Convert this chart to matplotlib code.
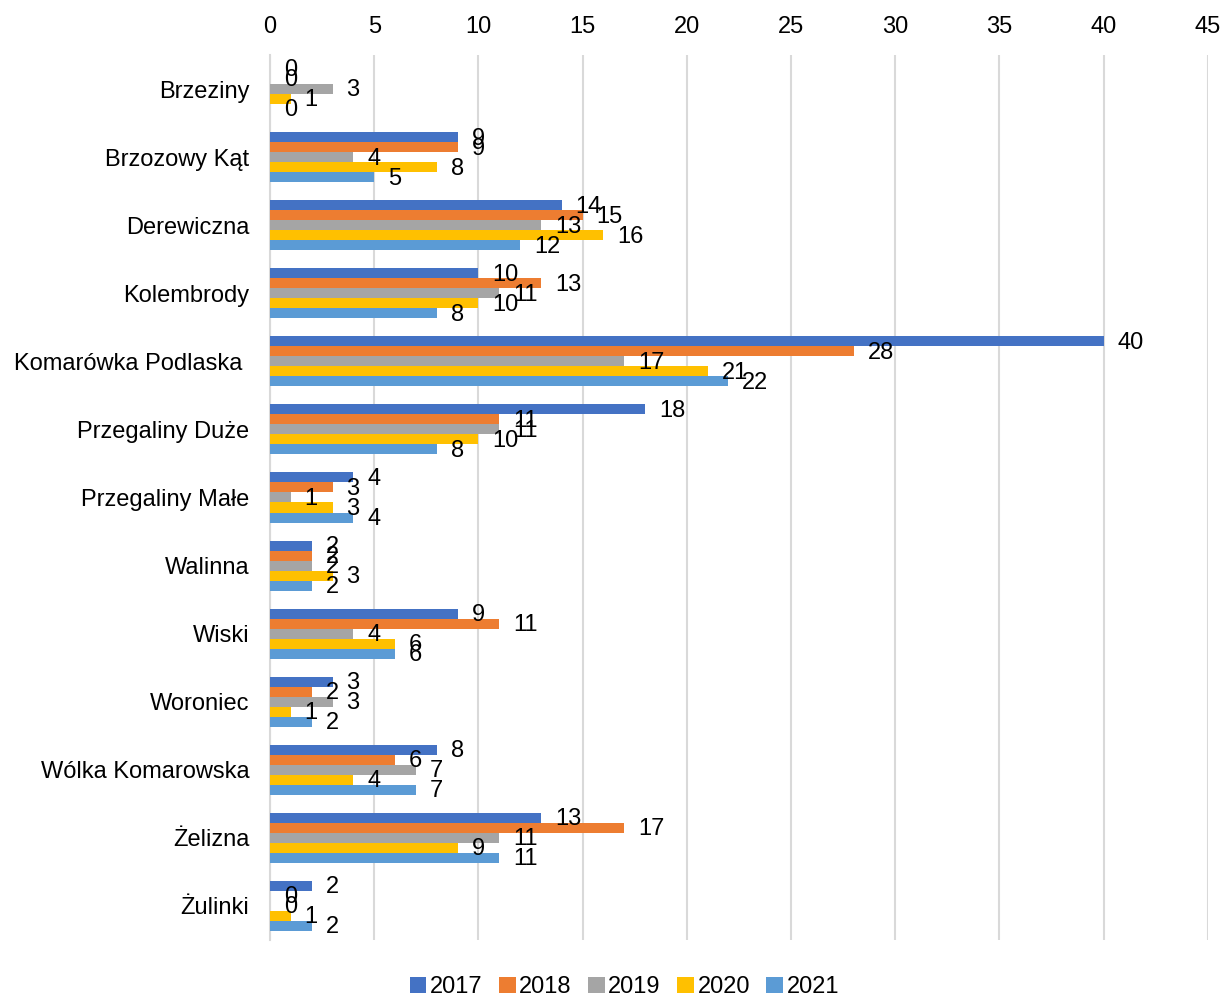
import matplotlib
matplotlib.use("Agg")
import matplotlib.pyplot as plt
import numpy as np

plt.rcParams['font.family'] = ['Liberation Sans', 'DejaVu Sans']

villages = ["Brzeziny", "Brzozowy Kąt", "Derewiczna", "Kolembrody",
            "Komarówka Podlaska ", "Przegaliny Duże", "Przegaliny Małe",
            "Walinna", "Wiski", "Woroniec", "Wólka Komarowska", "Żelizna",
            "Żulinki"]
years = ["2017", "2018", "2019", "2020", "2021"]
v2017 = [0, 9, 14, 10, 40, 18, 4, 2, 9, 3, 8, 13, 2]
v2018 = [0, 9, 15, 13, 28, 11, 3, 2, 11, 2, 6, 17, 0]
v2019 = [3, 4, 13, 11, 17, 11, 1, 2, 4, 3, 7, 11, 0]
v2020 = [1, 8, 16, 10, 21, 10, 3, 3, 6, 1, 4, 9, 1]
v2021 = [0, 5, 12, 8, 22, 8, 4, 2, 6, 2, 7, 11, 2]
series = [v2017, v2018, v2019, v2020, v2021]
colors = ["#4472C4", "#ED7D31", "#A5A5A5", "#FFC000", "#5B9BD5"]

fig = plt.figure(figsize=(12.2, 10.01), dpi=100)
ax = fig.add_axes([0.2213, 0.061, 0.7687, 0.884])

y = np.arange(len(villages))
h = 0.147
for i, (vals, c, yr) in enumerate(zip(series, colors, years)):
    pos = y + (i - 2) * h
    ax.barh(pos, vals, height=h, color=c, label=yr, zorder=3)
    for p, v in zip(pos, vals):
        ax.annotate(str(v), (v, p), xytext=(10, -1), textcoords="offset points",
                    ha="left", va="center", fontsize=17, color="black", zorder=4)

ax.set_xlim(0, 45)
ax.set_ylim(len(villages) - 0.5, -0.5)
ax.set_xticks(np.arange(0, 46, 5))
ax.xaxis.tick_top()
ax.set_yticks(y)
ax.set_yticklabels(villages)
ax.tick_params(axis="both", length=0, labelsize=17, colors="black")
ax.tick_params(axis="x", pad=12)
ax.tick_params(axis="y", pad=15)
ax.grid(axis="x", color="#D9D9D9", linewidth=1.5, zorder=0)
for s in ["top", "right", "bottom"]:
    ax.spines[s].set_visible(False)
ax.spines["left"].set_color("#D9D9D9")
ax.spines["left"].set_linewidth(1.5)

ax.legend(loc="lower center", bbox_to_anchor=(0.378, -0.09), ncol=5,
          frameon=False, fontsize=17, handlelength=0.7, handleheight=0.7,
          handletextpad=0.15, columnspacing=0.7)

fig.savefig("out.png", dpi=100)
